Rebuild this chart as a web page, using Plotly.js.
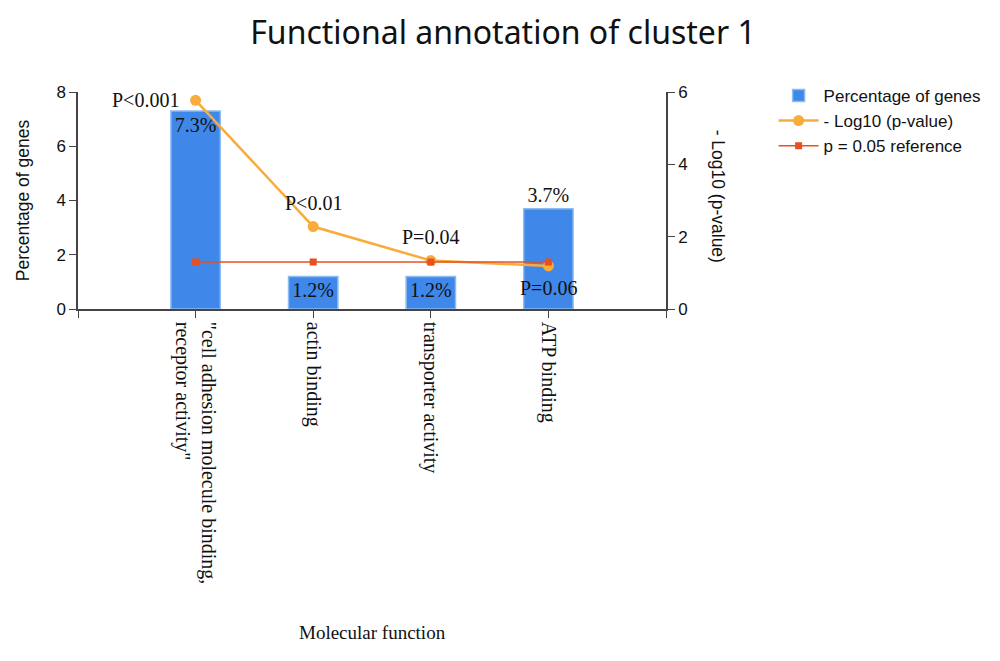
<!DOCTYPE html>
<html>
<head>
<meta charset="utf-8">
<script src="https://cdn.plot.ly/plotly-3.0.1.min.js"></script>
<style>html,body{margin:0;padding:0;background:#fff;}#chart{width:1000px;height:661px;}</style>
</head>
<body>
<div id="chart"></div>
<script>
const categories = ['"cell adhesion molecule binding,<br>receptor activity"', 'actin binding', 'transporter activity', 'ATP binding'];
const percentGenes = [7.3, 1.2, 1.2, 3.7];
const percentLabels = ['7.3%', '1.2%', '1.2%', '3.7%'];
const negLog10P = [5.77, 2.28, 1.34, 1.19];
const pLabels = ['P<0.001', 'P<0.01', 'P=0.04', 'P=0.06'];
const refValue = [1.30, 1.30, 1.30, 1.30];

const xIdx = categories.map((c, i) => i);
const serif = 'Liberation Serif, Times New Roman, serif';
const sans = 'Liberation Sans, Arial, sans-serif';

const traces = [
  {
    type: 'bar', name: 'Percentage of genes',
    x: xIdx, y: percentGenes, width: 0.42,
    marker: {color: '#3f87e8', line: {color: '#8dbbf2', width: 1.5}},
    text: percentLabels,
    textposition: ['inside', 'inside', 'inside', 'outside'],
    insidetextanchor: 'end',
    constraintext: 'none',
    textfont: {family: serif, size: 20, color: '#111'},
    cliponaxis: false
  },
  {
    type: 'scatter', mode: 'lines+markers', name: '- Log10 (p-value)',
    x: xIdx, y: negLog10P, yaxis: 'y2',
    line: {color: '#f9ab3b', width: 2.5},
    marker: {color: '#f9ab3b', size: 11, symbol: 'circle'},
    cliponaxis: false
  },
  {
    type: 'scatter', mode: 'lines+markers', name: 'p = 0.05 reference',
    x: xIdx, y: refValue, yaxis: 'y2',
    line: {color: '#e8501e', width: 1.5},
    marker: {color: '#e8501e', size: 7, symbol: 'square'},
    cliponaxis: false
  }
];

// label placement style for each p-value label (left / above / above / below)
const pLabelPlacement = [
  {xanchor: 'right', yanchor: 'middle', xshift: -15, yshift: 0},
  {xanchor: 'center', yanchor: 'middle', xshift: 0, yshift: 24},
  {xanchor: 'center', yanchor: 'middle', xshift: 0, yshift: 24},
  {xanchor: 'center', yanchor: 'middle', xshift: 0, yshift: -22}
];

const pAnnotations = pLabels.map((t, i) => Object.assign({
  text: t, x: xIdx[i], y: negLog10P[i], xref: 'x', yref: 'y2', showarrow: false,
  font: {family: serif, size: 20, color: '#111'}
}, pLabelPlacement[i]));

const layout = {
  width: 1000, height: 661,
  margin: {l: 78, r: 334, t: 92, b: 352},
  paper_bgcolor: '#fff', plot_bgcolor: '#fff',
  showlegend: true,
  title: {text: 'Functional annotation of cluster 1', x: 0.503, xanchor: 'center', y: 0.95, yanchor: 'middle',
          font: {family: 'Noto Sans, Open Sans, sans-serif', size: 32, color: '#111'}},
  font: {family: sans, color: '#111'},
  xaxis: {
    range: [-1, 4], tickmode: 'array',
    tickvals: [-1].concat(xIdx, [4]), ticktext: [''].concat(categories, ['']),
    tickangle: 90, tickfont: {family: serif, size: 20, color: '#111'},
    ticks: 'outside', ticklen: 7, tickcolor: '#444',
    showline: true, linecolor: '#444', linewidth: 1.5, showgrid: false, zeroline: false
  },
  yaxis: {
    range: [0, 8], tickvals: [0, 2, 4, 6, 8],
    ticks: 'outside', ticklen: 7, tickcolor: '#444',
    showline: true, linecolor: '#444', linewidth: 1.5, showgrid: false, zeroline: false,
    tickfont: {family: sans, size: 17, color: '#111'},
    title: {text: 'Percentage of genes', font: {family: sans, size: 17.5, color: '#111'}, standoff: 22}
  },
  yaxis2: {
    overlaying: 'y', side: 'right', range: [0, 6], tickvals: [0, 2, 4, 6],
    ticks: 'outside', ticklen: 7, tickcolor: '#444',
    showline: true, linecolor: '#444', linewidth: 1.5, showgrid: false, zeroline: false,
    tickfont: {family: sans, size: 17, color: '#111'}
  },
  legend: {x: 1.183, xanchor: 'left', y: 1.065, yanchor: 'top',
           font: {family: sans, size: 17, color: '#111'}, tracegroupgap: 0, itemwidth: 40},
  annotations: [
    {text: '- Log10 (p-value)', xref: 'paper', yref: 'paper', x: 1.108, y: 0.52,
     textangle: 90, showarrow: false, font: {family: sans, size: 17.5, color: '#111'}},
    {text: 'Molecular function', xref: 'paper', yref: 'paper', x: 0.5, y: -1.493,
     xanchor: 'center', yanchor: 'middle', showarrow: false, font: {family: serif, size: 19, color: '#111'}}
  ].concat(pAnnotations)
};

Plotly.newPlot('chart', traces, layout, {displayModeBar: false});
</script>
</body>
</html>
